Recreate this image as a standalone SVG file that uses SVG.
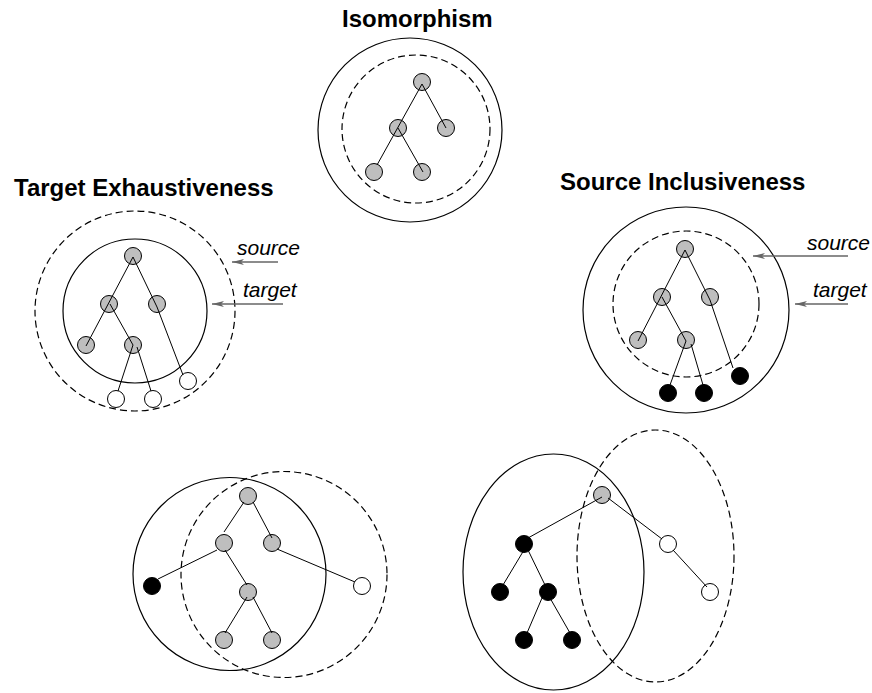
<svg xmlns="http://www.w3.org/2000/svg" width="872" height="693" viewBox="0 0 872 693">
<defs>
<style>
.title{font-family:"Liberation Sans",Arial,sans-serif;font-weight:bold;font-size:24px;fill:#000}
.lbl{font-family:"Liberation Sans",Arial,sans-serif;font-style:italic;font-size:21px;fill:#000}
.solid{fill:none;stroke:#000;stroke-width:1.2}
.dash{fill:none;stroke:#000;stroke-width:1.2;stroke-dasharray:7 4}
.g{fill:#bebebe;stroke:#000;stroke-width:1}
.b{fill:#000;stroke:#000;stroke-width:1}
.w{fill:#fff;stroke:#000;stroke-width:1}
.e{stroke:#000;stroke-width:1;fill:none}
.arr{stroke:#666;stroke-width:1.3;fill:none;marker-end:url(#ah)}
</style>
<marker id="ah" viewBox="0 0 12 8" refX="12" refY="4" markerWidth="12" markerHeight="8" markerUnits="userSpaceOnUse" orient="auto">
<path d="M12,4 L0,1 L3,4 L0,7 Z" fill="#666"/>
</marker>
</defs>
<rect width="872" height="693" fill="#fff"/>

<g id="titles">
<text class="title" x="342" y="27">Isomorphism</text>
<text class="title" x="14" y="196">Target Exhaustiveness</text>
<text class="title" x="560" y="190">Source Inclusiveness</text>
</g>

<g id="regions">
<circle class="solid" cx="410" cy="130" r="92"/>
<circle class="dash" cx="416" cy="129" r="74"/>
<circle class="dash" cx="135" cy="311" r="100"/>
<circle class="solid" cx="135" cy="311" r="72"/>
<circle class="solid" cx="686" cy="310" r="103"/>
<circle class="dash" cx="686" cy="304" r="73"/>
<circle class="solid" cx="229.5" cy="574" r="96.5"/>
<circle class="dash" cx="284" cy="574.5" r="103"/>
<ellipse class="solid" cx="553.5" cy="572" rx="90.5" ry="118"/>
<ellipse class="dash" cx="655.5" cy="556" rx="78.5" ry="126"/>
</g>

<g id="iso-nodes">
<circle id="iso1" class="g" cx="422" cy="82" r="8.5"/>
<circle id="iso2" class="g" cx="398" cy="128" r="8.5"/>
<circle id="iso3" class="g" cx="446" cy="128" r="8.5"/>
<circle id="iso4" class="g" cx="374" cy="172" r="8.5"/>
<circle id="iso5" class="g" cx="422" cy="172" r="8.5"/>
</g>
<g id="te-nodes">
<circle id="te1" class="g" cx="133" cy="256" r="8.5"/>
<circle id="te2" class="g" cx="109" cy="304" r="8.5"/>
<circle id="te3" class="g" cx="157" cy="304" r="8.5"/>
<circle id="te4" class="g" cx="86" cy="345" r="8.5"/>
<circle id="te5" class="g" cx="133" cy="345" r="8.5"/>
<circle id="te6" class="w" cx="116" cy="399" r="8.5"/>
<circle id="te7" class="w" cx="153" cy="399" r="8.5"/>
<circle id="te8" class="w" cx="188" cy="381" r="8.5"/>
</g>
<g id="si-nodes">
<circle id="si1" class="g" cx="685" cy="249" r="8.5"/>
<circle id="si2" class="g" cx="662" cy="297" r="8.5"/>
<circle id="si3" class="g" cx="710" cy="297" r="8.5"/>
<circle id="si4" class="g" cx="638" cy="340" r="8.5"/>
<circle id="si5" class="g" cx="686" cy="340" r="8.5"/>
<circle id="si6" class="b" cx="668" cy="393" r="8.5"/>
<circle id="si7" class="b" cx="704" cy="393" r="8.5"/>
<circle id="si8" class="b" cx="740" cy="376" r="8.5"/>
</g>
<g id="bl-nodes">
<circle id="bl1" class="g" cx="248" cy="496" r="8.5"/>
<circle id="bl2" class="g" cx="224" cy="543" r="8.5"/>
<circle id="bl3" class="g" cx="272" cy="543" r="8.5"/>
<circle id="bl4" class="b" cx="152" cy="586" r="8.5"/>
<circle id="bl5" class="w" cx="362" cy="586" r="8.5"/>
<circle id="bl6" class="g" cx="248" cy="592" r="8.5"/>
<circle id="bl7" class="g" cx="224" cy="640" r="8.5"/>
<circle id="bl8" class="g" cx="272" cy="640" r="8.5"/>
</g>
<g id="br-nodes">
<circle id="br1" class="g" cx="602" cy="495" r="8.5"/>
<circle id="br2" class="b" cx="524" cy="544" r="8.5"/>
<circle id="br3" class="w" cx="668" cy="544" r="8.5"/>
<circle id="br4" class="b" cx="500" cy="592" r="8.5"/>
<circle id="br5" class="b" cx="548" cy="592" r="8.5"/>
<circle id="br6" class="w" cx="710" cy="592" r="8.5"/>
<circle id="br7" class="b" cx="524" cy="640" r="8.5"/>
<circle id="br8" class="b" cx="572" cy="640" r="8.5"/>
</g>

<g id="connectors">
<line class="e" x1="422" y1="84" x2="377" y2="165"/>
<line class="e" x1="422" y1="84" x2="446" y2="128"/>
<line class="e" x1="398" y1="128" x2="423" y2="172"/>

<line class="e" x1="133" y1="257" x2="86" y2="346"/>
<line class="e" x1="133" y1="257" x2="157" y2="307"/>
<line class="e" x1="110" y1="304" x2="133" y2="345"/>
<line class="e" x1="157" y1="307" x2="183" y2="375"/>
<line class="e" x1="133" y1="345" x2="118" y2="391"/>
<line class="e" x1="137" y1="347" x2="151" y2="391"/>

<line class="e" x1="685" y1="250" x2="638" y2="341"/>
<line class="e" x1="685" y1="250" x2="710" y2="300"/>
<line class="e" x1="662" y1="297" x2="686" y2="341"/>
<line class="e" x1="710" y1="300" x2="733" y2="368"/>
<line class="e" x1="686" y1="341" x2="670" y2="385"/>
<line class="e" x1="691" y1="344" x2="703" y2="385"/>

<line class="e" x1="244" y1="502" x2="224" y2="532"/>
<line class="e" x1="253" y1="502" x2="272" y2="538"/>
<line class="e" x1="217" y1="550" x2="158" y2="579"/>
<line class="e" x1="225" y1="550" x2="247" y2="585"/>
<line class="e" x1="277" y1="549" x2="355" y2="582"/>
<line class="e" x1="247" y1="597" x2="225" y2="633"/>
<line class="e" x1="253" y1="597" x2="272" y2="633"/>

<line class="e" x1="602" y1="497" x2="528" y2="538"/>
<line class="e" x1="608" y1="498" x2="662" y2="539"/>
<line class="e" x1="673" y1="550" x2="707" y2="587"/>
<line class="e" x1="524" y1="550" x2="503" y2="585"/>
<line class="e" x1="528" y1="550" x2="545" y2="585"/>
<line class="e" x1="542" y1="598" x2="527" y2="633"/>
<line class="e" x1="550" y1="598" x2="570" y2="633"/>

<line class="arr" x1="278" y1="262" x2="232" y2="262"/>
<line class="arr" x1="283" y1="304" x2="212" y2="304"/>
<line class="arr" x1="848" y1="256" x2="753" y2="256"/>
<line class="arr" x1="848" y1="304" x2="795" y2="304"/>
</g>

<g id="labels">
<text class="lbl" x="237" y="255">source</text>
<text class="lbl" x="243" y="297">target</text>
<text class="lbl" x="807" y="250">source</text>
<text class="lbl" x="813" y="297">target</text>
</g>
</svg>
